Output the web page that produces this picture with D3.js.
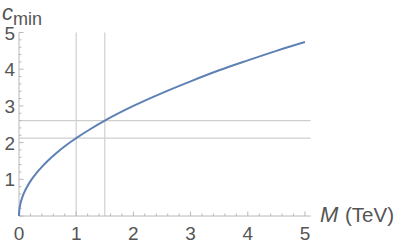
<!DOCTYPE html>
<html><head><meta charset="utf-8">
<script src="https://cdn.jsdelivr.net/npm/d3@7"></script>
<style>body{margin:0;background:#fff}svg{display:block}text{font-family:"Liberation Sans","Arial",sans-serif;fill:#555}</style>
</head><body><svg id="c" width="400" height="246"></svg>
<script>
// data
const massTeV = [0, 0.005, 0.01, 0.02, 0.04, 0.07, 0.1, 0.15, 0.2, 0.3, 0.4, 0.5, 0.65, 0.8, 1, 1.25, 1.5, 2, 2.5, 3, 3.5, 4, 4.5, 5];
const cMin    = [0, 0.15, 0.21, 0.30, 0.42, 0.56, 0.67, 0.82, 0.95, 1.16, 1.34, 1.50, 1.71, 1.90, 2.12, 2.37, 2.60, 3.00, 3.35, 3.67, 3.97, 4.24, 4.50, 4.74];
const refM = [1, 1.5];
const refC = [2.12, 2.60];
const xTicks = [0, 1, 2, 3, 4, 5];
const yTicks = [1, 2, 3, 4, 5];

const svg = d3.select("#c");
const x = d3.scaleLinear().domain([0, 5.1]).range([19, 310.7]);
const y = d3.scaleLinear().domain([0, 5]).range([216, 32.5]);

const grid = "#cfcfcf", axisC = "#b8b8b8";
// reference lines
svg.selectAll(".vl").data(refM).enter().append("line")
  .attr("x1", d => x(d)).attr("x2", d => x(d)).attr("y1", y(5)).attr("y2", y(0))
  .attr("stroke", grid).attr("stroke-width", 1.2);
svg.selectAll(".hl").data(refC).enter().append("line")
  .attr("x1", x(0)).attr("x2", x(5.1)).attr("y1", d => y(d)).attr("y2", d => y(d))
  .attr("stroke", grid).attr("stroke-width", 1.2);

// axes
const xMinor = d3.range(0, 5.01, 0.2);
const yMinor = d3.range(0, 5.01, 0.2);
svg.append("line").attr("x1", x(0)).attr("x2", x(5.1)).attr("y1", y(0)).attr("y2", y(0)).attr("stroke", axisC);
svg.append("line").attr("x1", x(0)).attr("x2", x(0)).attr("y1", y(0)).attr("y2", y(5)).attr("stroke", axisC);
svg.selectAll(".xm").data(xMinor).enter().append("line")
  .attr("x1", d => x(d)).attr("x2", d => x(d)).attr("y1", y(0))
  .attr("y2", d => y(0) - (Math.abs(d - Math.round(d)) < 1e-6 ? 4.5 : 2.5)).attr("stroke", axisC);
svg.selectAll(".ym").data(yMinor).enter().append("line")
  .attr("y1", d => y(d)).attr("y2", d => y(d)).attr("x1", x(0))
  .attr("x2", d => x(0) + (Math.abs(d - Math.round(d)) < 1e-6 ? 4.5 : 2.5)).attr("stroke", axisC);

svg.selectAll(".xt").data(xTicks).enter().append("text")
  .attr("x", d => x(d)).attr("y", 240).attr("text-anchor", "middle").attr("font-size", 19).text(d => d);
svg.selectAll(".yt").data(yTicks).enter().append("text")
  .attr("x", 15).attr("y", d => y(d) + 7).attr("text-anchor", "end").attr("font-size", 19).text(d => d);

// axis labels
const xl = svg.append("text").attr("y", 222).attr("font-size", 20.5);
xl.append("tspan").attr("x", 320).attr("font-style", "italic").attr("font-size", 22).text("M");
xl.append("tspan").attr("x", 345).text("(TeV)");
const yl = svg.append("text").attr("x", 2).attr("y", 20).attr("font-size", 22);
yl.append("tspan").attr("font-style", "italic").text("c");
yl.append("tspan").attr("font-size", 18).attr("dy", 5).text("min");

// curve
const pts = massTeV.map((m, i) => [m, cMin[i]]);
svg.append("path").datum(pts)
  .attr("d", d3.line().x(d => x(d[0])).y(d => y(d[1])).curve(d3.curveMonotoneX))
  .attr("fill", "none").attr("stroke", "#5E81B5").attr("stroke-width", 2);
</script></body></html>
